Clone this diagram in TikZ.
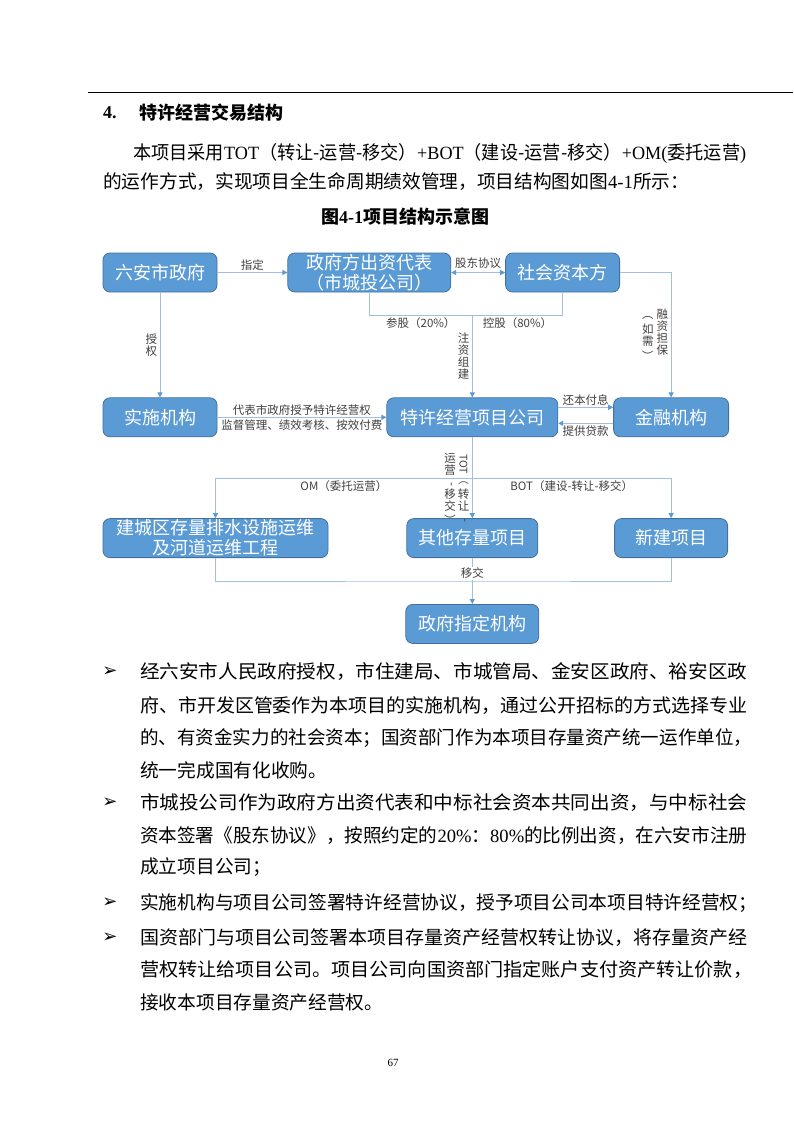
\documentclass[tikz,border=0pt]{standalone}
\usepackage{fontspec}
\usepackage{graphicx}
\usepackage{xcolor}
\setmainfont{Liberation Serif}
\newfontfamily\cjk{Noto Sans CJK SC}
\newfontfamily\symfont{DejaVu Sans}
\definecolor{BoxBlue}{HTML}{5B9BD5}
\definecolor{BoxEdge}{HTML}{41719C}
\definecolor{LinkBlue}{HTML}{A2BFE0}
\definecolor{TipBlue}{HTML}{5B9BD5}
\definecolor{LabelGray}{HTML}{404040}
\usetikzlibrary{arrows.meta, positioning, calc}
\newcommand{\vturn}[1]{\rotatebox[origin=c]{-90}{#1}}
\newcommand{\vcol}[1]{\parbox[t]{1em}{\centering\lineskiplimit=-20pt\baselineskip=12pt #1}}
\newcommand{\fitline}[2]{\resizebox{#1}{\height}{#2}}

\begin{document}
\begin{tikzpicture}[x=1pt, y=-1pt,
    box/.style={draw=BoxEdge, fill=BoxBlue, line width=0.8pt, rounded corners=7pt, text=white, font=\cjk\fontsize{18}{20}\selectfont, align=center, inner sep=0pt, minimum height=39pt},
    link/.style={draw=LinkBlue, line width=1pt},
    arr/.style={link, -{Triangle[length=5pt, width=5pt, color=TipBlue]}},
    twoway/.style={link, {Triangle[length=5pt, width=5pt, color=TipBlue]}-{Triangle[length=5pt, width=5pt, color=TipBlue]}},
    lbl/.style={font=\cjk\fontsize{11.5}{12.5}\selectfont, text=LabelGray, inner sep=1.5pt},
    body/.style={anchor=west, inner sep=0pt, font=\cjk\fontsize{18.7}{18.7}\selectfont},
    pointer/.style={font=\symfont\fontsize{18}{18}\selectfont, inner sep=0pt}]
    \useasboundingbox (0,0) rectangle (793,1122);
    \fill[white] (0,0) rectangle (793,1122);

    % Page head
    \draw[line width=0.8pt] (88,92) -- (793,92);
    \node (secnum) [anchor=west, inner sep=0pt, font=\bfseries\fontsize{18}{18}\selectfont] at (103,113) {4.};
    \node (sectitle) [anchor=west, inner sep=0pt, font=\cjk\bfseries\fontsize{18}{18}\selectfont] at (139,113) {特许经营交易结构};
    \node (intro1) [body, font=\fontsize{18.7}{18.7}\selectfont] at (133,153) {\fitline{613pt}{{\cjk 本项目采用}TOT{\cjk （转让-运营-移交）}+BOT{\cjk （建设-运营-移交）}+OM({\cjk 委托运营})}};
    \node (intro2) [body] at (103,182) {的运作方式，实现项目全生命周期绩效管理，项目结构图如图{\rmfamily 4-1}所示：};
    \node (caption) [inner sep=0pt, font=\cjk\bfseries\fontsize{18}{18}\selectfont] at (405,217) {图{\rmfamily 4-1}项目结构示意图};

    % Components
    \node (gov) [box, minimum width=114pt] at (160,272.5) {六安市政府};
    \node (rep) [box, minimum width=163pt, right=70pt of gov] {政府方出资代表\\（市城投公司）};
    \node (social) [box, minimum width=114pt, right=54pt of rep] {社会资本方};
    \node (impl) [box, minimum width=114pt, below=105pt of gov] {实施机构};
    \node (spv) [box, minimum width=171pt, right=169pt of impl] {特许经营项目公司};
    \node (fin) [box, minimum width=115pt, right=55pt of spv] {金融机构};
    \node (drain) [box, minimum width=225pt, below=81pt of impl.south west, anchor=north west] {建城区存量排水设施运维\\及河道运维工程};
    \node (stock) [box, minimum width=131pt, below=81pt of spv] {其他存量项目};
    \node (newb) [box, minimum width=113pt, below=81pt of fin] {新建项目};
    \node (dest) [box, minimum width=133pt, below=46pt of stock] {政府指定机构};

    % Shareholding
    \draw[arr] (gov) -- (rep) node[lbl, midway, above] {指定};
    \draw[twoway] (rep) -- (social) node[lbl, midway, above=2pt] {股东协议};
    \draw[arr] (gov) -- (impl) node[lbl, midway, left=1pt] {\vcol{授\\权}};
    \coordinate[above=82pt of spv.north] (merge);
    \draw[link] (rep.south) |- (merge) node[lbl, pos=0.75, below] {参股（20\%）};
    \draw[link] (social.south) |- (merge) node[lbl, pos=0.75, below] {控股（80\%）};
    \draw[arr] (merge) -- (spv.north) node[lbl, midway, left=1pt] {\vcol{注\\资\\组\\建}};
    \draw[arr] (social.east) -| (fin.north) node[lbl, pos=0.75, left=1pt] {\vcol{\vturn{（}\\[3pt]如\\需\\[3pt]\vturn{）}}\hspace{3pt}\vcol{融\\资\\担\\保}};

    % Concession and loans
    \draw[arr] (impl) -- (spv) node[lbl, midway, above] {代表市政府授予特许经营权} node[lbl, midway, below] {监督管理、绩效考核、按效付费};
    \draw[arr] ([yshift=10pt]spv.east) -- ([yshift=10pt]fin.west) node[lbl, midway, above] {还本付息};
    \draw[arr] ([yshift=-6pt]fin.west) -- ([yshift=-6pt]spv.east) node[lbl, midway, below] {提供贷款};

    % Operation modes
    \draw[arr] (spv) -- (stock) node[lbl, midway, left=1pt, yshift=-12pt] {\vcol{运\\营\\\vturn{-}\\移\\交\\[2pt]\vturn{）}}\hspace{2pt}\vcol{\smash{\raisebox{-11pt}{\vturn{\fontsize{10.5}{10.5}\selectfont TOT（}}}\\[24pt]转\\让\\\vturn{-}}};
    \coordinate[below=41pt of spv.south] (split);
    \draw[arr] (split) -| (drain.north) node[lbl, pos=0.25, below] {OM（委托运营）};
    \draw[arr] (split) -| (newb.north) node[lbl, pos=0.25, below] {BOT（建设-转让-移交）};
    \coordinate[below=23pt of stock.south] (gather);
    \draw[link] (drain.south) |- (gather) -| (newb.south);
    \draw[arr] (stock) -- (dest) node[lbl, pos=0.33, fill=white, inner sep=1pt] {移交};

    % Notes
    \node (p1) [pointer] at (110,672) {➢};
    \node (b1l1) [body] at (140,672) {\fitline{607pt}{经六安市人民政府授权，市住建局、市城管局、金安区政府、裕安区政}};
    \node (b1l2) [body] at (140,706) {\fitline{607pt}{府、市开发区管委作为本项目的实施机构，通过公开招标的方式选择专业}};
    \node (b1l3) [body] at (140,738) {\fitline{612pt}{的、有资金实力的社会资本；国资部门作为本项目存量资产统一运作单位，}};
    \node (b1l4) [body] at (140,770) {统一完成国有化收购。};
    \node (p2) [pointer] at (110,803) {➢};
    \node (b2l1) [body] at (140,803) {\fitline{607pt}{市城投公司作为政府方出资代表和中标社会资本共同出资，与中标社会}};
    \node (b2l2) [body] at (140,836) {\fitline{607pt}{资本签署《股东协议》，按照约定的{\rmfamily 20\%}：{\rmfamily 80\%}的比例出资，在六安市注册}};
    \node (b2l3) [body] at (140,867) {成立项目公司；};
    \node (p3) [pointer] at (110,903) {➢};
    \node (b3l1) [body] at (140,903) {实施机构与项目公司签署特许经营协议，授予项目公司本项目特许经营权；};
    \node (p4) [pointer] at (110,938) {➢};
    \node (b4l1) [body] at (140,938) {\fitline{607pt}{国资部门与项目公司签署本项目存量资产经营权转让协议，将存量资产经}};
    \node (b4l2) [body] at (140,970) {\fitline{612pt}{营权转让给项目公司。项目公司向国资部门指定账户支付资产转让价款，}};
    \node (b4l3) [body] at (140,1002) {接收本项目存量资产经营权。};
    \node (pageno) [inner sep=0pt, font=\fontsize{11}{11}\selectfont] at (393,1063) {67};
\end{tikzpicture}
\end{document}
